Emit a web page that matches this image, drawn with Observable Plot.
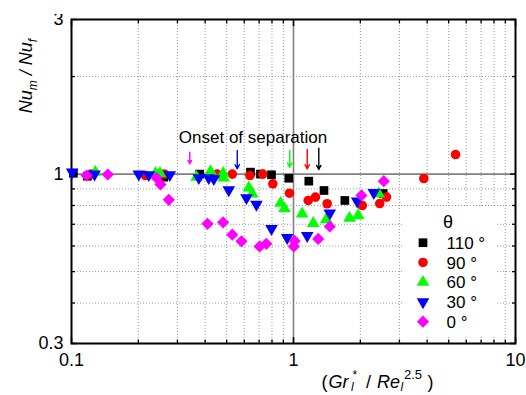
<!DOCTYPE html>
<html>
<head>
<meta charset="utf-8">
<script src="https://cdn.jsdelivr.net/npm/d3@7"></script>
<script src="https://cdn.jsdelivr.net/npm/@observablehq/plot@0.6"></script>
<style>
  body { margin: 0; background: #fff; }
  #chart { width: 526px; height: 395px; }
</style>
</head>
<body>
<div id="chart"></div>
<script>
// ---- data ----
const x110 = [0.102, 0.118, 0.260, 0.378, 0.640, 0.710, 0.796, 0.952, 1.172, 1.372, 1.703, 2.535];
const y110 = [1.006, 0.985, 0.978, 1.000, 1.014, 1.000, 0.995, 0.971, 0.951, 0.890, 0.829, 0.871];

const x90 = [0.1227, 0.2155, 0.2624, 0.453, 0.530, 0.636, 0.727, 0.807, 0.959, 1.165, 1.256, 1.418, 2.04, 2.446, 2.624, 3.864, 5.37];
const y90 = [1.000, 0.990, 1.000, 1.000, 1.000, 0.990, 1.000, 0.933, 0.873, 0.829, 0.849, 0.810, 0.800, 0.811, 0.849, 0.969, 1.149];

const x60 = [0.128, 0.239, 0.2504, 0.366, 0.423, 0.482, 0.485, 0.629, 0.652, 0.874, 0.911, 1.094, 1.227, 1.404, 1.788, 1.956, 2.422];
const y60 = [1.014, 1.006, 1.006, 0.978, 1.019, 1.006, 0.974, 0.907, 0.869, 0.813, 0.782, 0.754, 0.705, 0.724, 0.731, 0.745, 0.869];

const x30 = [0.1007, 0.127, 0.201, 0.223, 0.277, 0.3745, 0.415, 0.4375, 0.511, 0.614, 0.681, 0.796, 0.937, 1.153, 1.457, 1.936, 2.300];
const y30 = [1.014, 1.000, 1.000, 0.995, 0.995, 0.974, 0.974, 0.967, 0.894, 0.845, 0.806, 0.678, 0.636, 0.646, 0.757, 0.825, 0.876];

const x0 = [0.1169, 0.1457, 0.2415, 0.2517, 0.2744, 0.410, 0.482, 0.530, 0.583, 0.704, 0.754, 1.012, 1.003, 1.292, 1.457, 2.024, 2.551];
const y0 = [0.990, 0.997, 0.974, 0.929, 0.833, 0.702, 0.710, 0.650, 0.620, 0.598, 0.609, 0.622, 0.598, 0.631, 0.689, 0.859, 0.951];

const seriesLabels = ["110 °", "90 °", "60 °", "30 °", "0 °"];
const seriesColors = ["#000000", "#ff0000", "#00ff00", "#0000ff", "#ff00ff"];
const legendTitle = "θ";

// onset-of-separation arrows (x, top y, bottom y)
const arrowX = [0.341, 0.558, 0.962, 1.153, 1.300];
const arrowTop = [1.168, 1.182, 1.182, 1.191, 1.202];
const arrowBottom = [1.076, 1.038, 1.050, 1.038, 1.033];
const arrowColors = ["#ff00ff", "#0000ff", "#00ff00", "#ff0000", "#000000"];

const annotLabel = ["Onset of separation"];
const annotX = [0.657];
const annotY = [1.30];

// axis ticks
const xMajor = [0.1, 1, 10];
const xMinor = [0.2, 0.3, 0.4, 0.5, 0.6, 0.7, 0.8, 0.9, 2, 3, 4, 5, 6, 7, 8, 9];
const yMajor = [0.3, 1, 3];
const yMinor = [0.4, 0.5, 0.6, 0.7, 0.8, 0.9, 2];

// ---- build ----
const sqrt3 = Math.sqrt(3);
const triangleDown = {
  draw(ctx, size) {
    const y = Math.sqrt(size / (sqrt3 * 3));
    ctx.moveTo(0, 2 * y);
    ctx.lineTo(-sqrt3 * y, -y);
    ctx.lineTo(sqrt3 * y, -y);
    ctx.closePath();
  }
};
const symbols = [d3.symbolSquare, d3.symbolCircle, d3.symbolTriangle, triangleDown, d3.symbolDiamond2];
const radii = [4.9, 4.8, 4.7, 4.7, 5.5];

const toRows = (xs, ys) => xs.map((x, i) => ({x, y: ys[i]}));
const series = [toRows(x110, y110), toRows(x90, y90), toRows(x60, y60), toRows(x30, y30), toRows(x0, y0)];

const font = "'Liberation Sans', Arial, sans-serif";
const blank = () => "";

const plot = Plot.plot({
  width: 526,
  height: 395,
  marginTop: 19,
  marginRight: 11,
  marginBottom: 52,
  marginLeft: 71,
  style: {fontFamily: font, background: "white", color: "black", overflow: "visible"},
  x: {type: "log", domain: [0.1, 10], axis: null},
  y: {type: "log", domain: [0.3, 3], axis: null},
  color: {type: "identity"},
  marks: [
    // grid
    Plot.ruleX(xMinor, {stroke: "#9a9a9a", strokeWidth: 1, strokeDasharray: "1,2"}),
    Plot.ruleY(yMinor, {stroke: "#9a9a9a", strokeWidth: 1, strokeDasharray: "1,2"}),
    Plot.ruleX([1], {stroke: "#808080", strokeWidth: 1.6}),
    Plot.ruleY([1], {stroke: "#808080", strokeWidth: 1.6}),
    // inward ticks
    Plot.axisX({anchor: "bottom", ticks: xMinor, tickSize: -3.5, tickFormat: blank, label: null, strokeWidth: 1.3}),
    Plot.axisX({anchor: "top", ticks: xMinor, tickSize: -3.5, tickFormat: blank, label: null, strokeWidth: 1.3}),
    Plot.axisX({anchor: "bottom", ticks: xMajor, tickSize: -6, tickFormat: blank, label: null, strokeWidth: 1.5}),
    Plot.axisX({anchor: "top", ticks: xMajor, tickSize: -6, tickFormat: blank, label: null, strokeWidth: 1.5}),
    Plot.axisY({anchor: "left", ticks: yMinor, tickSize: -4, tickFormat: blank, label: null, strokeWidth: 1.3}),
    Plot.axisY({anchor: "right", ticks: yMinor, tickSize: -4, tickFormat: blank, label: null, strokeWidth: 1.3}),
    Plot.axisY({anchor: "left", ticks: yMajor, tickSize: -6, tickFormat: blank, label: null, strokeWidth: 1.5}),
    Plot.axisY({anchor: "right", ticks: yMajor, tickSize: -6, tickFormat: blank, label: null, strokeWidth: 1.5}),
    // tick labels
    Plot.axisX({anchor: "bottom", ticks: xMajor, tickSize: 0, tickPadding: 10, fontSize: 18, tickFormat: d => String(d), label: null}),
    Plot.axisY({anchor: "left", ticks: yMajor, tickSize: 0, tickPadding: 8, fontSize: 18, tickFormat: d => String(d), label: null}),
    // frame
    Plot.frame({stroke: "#000", strokeWidth: 2}),
    // annotation
    Plot.text(annotLabel, {x: annotX, y: annotY, text: annotLabel, fontSize: 17, textAnchor: "middle", fill: "black"}),
    Plot.arrow(arrowColors, {x1: arrowX, x2: arrowX, y1: arrowTop, y2: arrowBottom, stroke: arrowColors, strokeWidth: 1.4, headLength: 5, headAngle: 55}),
    // data
    ...series.map((rows, i) => Plot.dot(rows, {x: "x", y: "y", symbol: symbols[i], r: radii[i], fill: seriesColors[i]}))
  ]
});

document.getElementById("chart").appendChild(plot);
const svg = d3.select(plot);

// white box behind the annotation
svg.selectAll("text").filter(function () { return this.textContent === annotLabel[0]; }).each(function () {
  const bb = this.getBBox();
  const rect = document.createElementNS("http://www.w3.org/2000/svg", "rect");
  rect.setAttribute("x", bb.x - 6);
  rect.setAttribute("y", bb.y - 5);
  rect.setAttribute("width", bb.width + 12);
  rect.setAttribute("height", bb.height + 9);
  rect.setAttribute("fill", "white");
  this.parentNode.insertBefore(rect, this);
});

// legend
const lg = svg.append("g").attr("text-anchor", "start");
lg.append("rect").attr("x", 403).attr("y", 206).attr("width", 94).attr("height", 129).attr("fill", "white");
lg.append("text").attr("x", 448).attr("y", 228).attr("text-anchor", "middle")
  .style("font-size", "18px").attr("fill", "black").text(legendTitle);
seriesLabels.forEach((lab, i) => {
  const cy = 242.7 + i * 19.75;
  lg.append("path")
    .attr("transform", `translate(423,${cy})`)
    .attr("d", d3.symbol(symbols[i], Math.PI * radii[i] * radii[i])())
    .attr("fill", seriesColors[i]);
  lg.append("text").attr("x", 446.5).attr("y", cy + 6.2).attr("text-anchor", "start")
    .style("font-size", "17px").attr("fill", "black").text(lab);
});

// y axis title: Nu_m / Nu_f
const yt = svg.append("text")
  .attr("transform", "translate(32,76) rotate(-90)")
  .attr("text-anchor", "middle")
  .style("font-size", "18px").style("font-style", "italic").attr("fill", "black");
yt.append("tspan").text("Nu");
yt.append("tspan").attr("dy", 5).style("font-size", "12px").text("m");
yt.append("tspan").attr("dy", -5).text(" / Nu");
yt.append("tspan").attr("dy", 5).style("font-size", "12px").text("f");

// x axis title: (Gr_l^* / Re_l^2.5)
const xt = svg.append("text").attr("y", 388).attr("text-anchor", "start")
  .style("font-size", "18px").attr("fill", "black");
xt.append("tspan").attr("x", 321.5).text("(");
xt.append("tspan").attr("x", 328.5).style("font-style", "italic").text("Gr");
xt.append("tspan").attr("x", 351).attr("dy", 3).style("font-size", "12px").style("font-style", "italic").text("l");
xt.append("tspan").attr("x", 352.5).attr("dy", -12).style("font-size", "12px").text("*");
xt.append("tspan").attr("x", 366).attr("dy", 9).text("/");
xt.append("tspan").attr("x", 377).style("font-style", "italic").text("Re");
xt.append("tspan").attr("x", 400.5).attr("dy", 3).style("font-size", "12px").style("font-style", "italic").text("l");
xt.append("tspan").attr("x", 404).attr("dy", -12).style("font-size", "13px").text("2.5");
xt.append("tspan").attr("x", 427.5).attr("dy", 9).text(")");
</script>
</body>
</html>
